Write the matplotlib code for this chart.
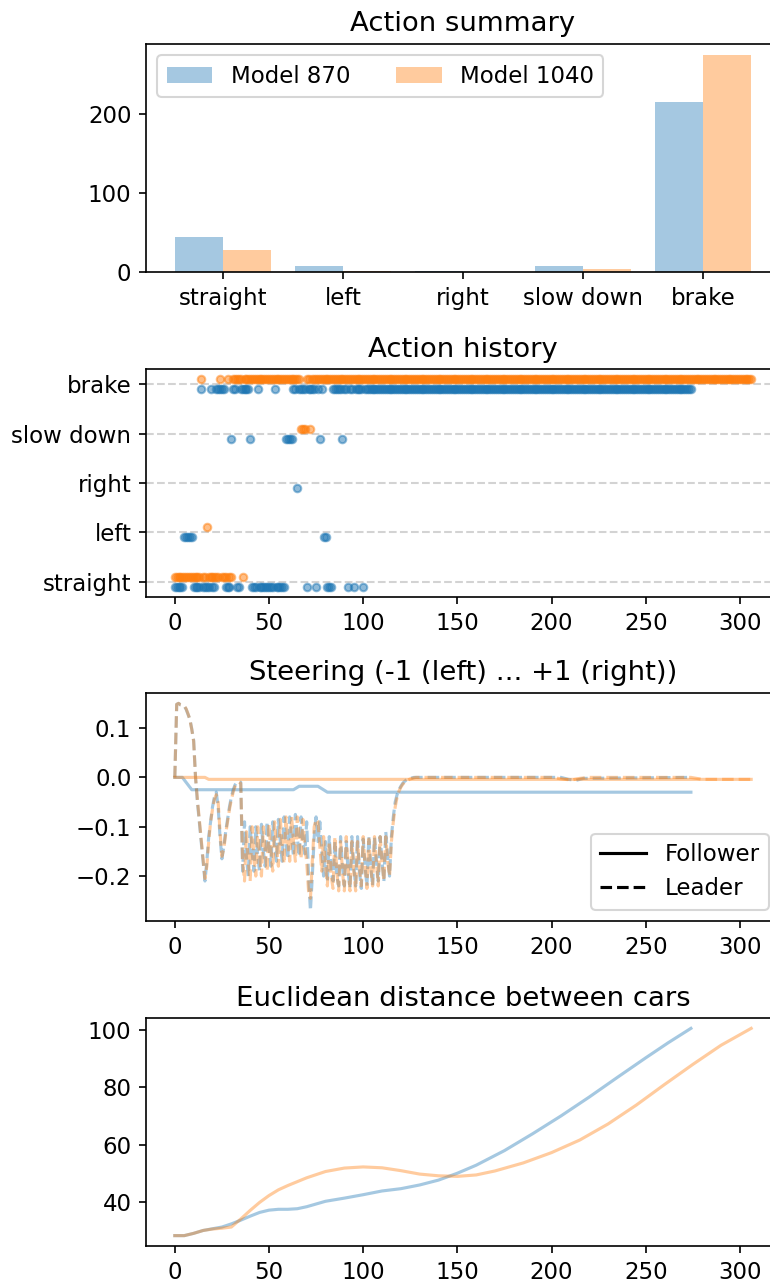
import numpy as np
import matplotlib
matplotlib.use("Agg")
import matplotlib.pyplot as plt
from matplotlib.lines import Line2D
from matplotlib.ticker import MultipleLocator

plt.rcParams["font.size"] = 11

# ---------------- data ----------------
actions = ["straight", "left", "right", "slow down", "brake"]
models = ["Model 870", "Model 1040"]
summary_870 = [44, 7, 1, 8, 215]
summary_1040 = [28, 1, 0, 4, 274]

# action history as runs of (action index, run length), starting at t = 0
history_870_runs = [(0, 5), (1, 5), (0, 4), (4, 1), (0, 4), (4, 1), (0, 2), (4, 5),
                    (0, 3), (3, 1), (4, 2), (0, 2), (4, 5), (3, 1), (0, 3), (4, 1),
                    (0, 8), (4, 1), (0, 5), (3, 4), (4, 2), (2, 1), (4, 4), (0, 1),
                    (4, 4), (0, 1), (4, 1), (3, 1), (4, 1), (1, 2), (0, 3), (4, 5),
                    (3, 1), (4, 2), (0, 1), (4, 2), (0, 1), (4, 4), (0, 1), (4, 174)]
history_1040_runs = [(0, 14), (4, 1), (0, 2), (1, 1), (0, 6), (4, 1), (0, 3), (4, 1),
                     (0, 2), (4, 5), (0, 1), (4, 30), (3, 3), (4, 2), (3, 1), (4, 234)]

# steering: follower (solid)
follower_870_t = [0, 4, 9, 63, 66, 76, 81, 274]
follower_870_v = [0.0, 0.0, -0.025, -0.025, -0.018, -0.018, -0.030, -0.030]
follower_1040_t = [0, 16, 18, 306]
follower_1040_v = [0.0, 0.0, -0.004, -0.004]

# steering: leader (dashed), one value per step from t = 0, then sparse tail
leader_870_head = [
    0.0, 0.148, 0.150, 0.147, 0.146, 0.145, 0.138, 0.128, 0.118, 0.098,
    0.075, 0.0, -0.05, -0.09, -0.13, -0.17, -0.21, -0.17, -0.12, -0.09,
    -0.06, -0.04, -0.03, -0.06, -0.12, -0.165, -0.14, -0.11, -0.085, -0.06,
    -0.04, -0.025, -0.015, -0.01, -0.008, -0.01, -0.19, -0.09, -0.16, -0.20,
    -0.10, -0.15, -0.19, -0.10, -0.16, -0.19, -0.095, -0.15, -0.18, -0.09,
    -0.14, -0.18, -0.09, -0.14, -0.17, -0.085, -0.13, -0.17, -0.08, -0.13,
    -0.165, -0.08, -0.12, -0.16, -0.075, -0.12, -0.16, -0.08, -0.13, -0.155,
    -0.09, -0.20, -0.27, -0.20, -0.12, -0.08, -0.13, -0.09, -0.15, -0.20,
    -0.13, -0.21, -0.12, -0.19, -0.21, -0.13, -0.20, -0.22, -0.12, -0.18,
    -0.22, -0.13, -0.19, -0.225, -0.12, -0.18, -0.22, -0.12, -0.19, -0.225,
    -0.125, -0.18, -0.22, -0.12, -0.18, -0.22, -0.12, -0.17, -0.21, -0.12,
    -0.17, -0.21, -0.11, -0.16, -0.20, -0.12, -0.08, -0.05, -0.035, -0.025,
    -0.018, -0.012, -0.008, -0.005, -0.003, -0.002, -0.001, 0.0]
leader_870_tail_t = [130, 205, 209, 213, 217, 274]
leader_870_tail_v = [0.0, 0.0, -0.004, -0.006, -0.002, 0.0]

leader_1040_head = [
    0.0, 0.148, 0.150, 0.147, 0.146, 0.145, 0.139, 0.129, 0.117, 0.097,
    0.073, 0.0, -0.045, -0.085, -0.125, -0.165, -0.205, -0.18, -0.13, -0.09,
    -0.065, -0.045, -0.035, -0.05, -0.11, -0.16, -0.145, -0.115, -0.09, -0.065,
    -0.045, -0.03, -0.018, -0.012, -0.01, -0.012, -0.17, -0.21, -0.11, -0.17,
    -0.21, -0.10, -0.16, -0.20, -0.10, -0.16, -0.20, -0.10, -0.15, -0.19,
    -0.095, -0.15, -0.19, -0.09, -0.14, -0.18, -0.085, -0.14, -0.175, -0.08,
    -0.13, -0.17, -0.08, -0.13, -0.17, -0.08, -0.12, -0.165, -0.085, -0.14,
    -0.17, -0.23, -0.245, -0.17, -0.10, -0.085, -0.09, -0.14, -0.19, -0.12,
    -0.18, -0.22, -0.13, -0.20, -0.225, -0.12, -0.19, -0.23, -0.13, -0.19,
    -0.23, -0.12, -0.18, -0.23, -0.13, -0.19, -0.23, -0.13, -0.18, -0.22,
    -0.12, -0.18, -0.225, -0.125, -0.18, -0.22, -0.12, -0.17, -0.22, -0.12,
    -0.17, -0.21, -0.12, -0.17, -0.20, -0.13, -0.09, -0.06, -0.04, -0.028,
    -0.02, -0.014, -0.01, -0.007, -0.005, -0.003, -0.002, -0.001, 0.0]
leader_1040_tail_t = [130, 200, 207, 211, 215, 220, 274, 280, 306]
leader_1040_tail_v = [0.0, 0.0, -0.004, -0.005, -0.002, 0.0, 0.0, -0.004, -0.004]

# euclidean distance between cars
dist_870_t = [0, 5, 10, 15, 20, 25, 30, 35, 40, 45, 50, 55, 60, 65, 70, 80, 90,
              100, 110, 120, 130, 140, 150, 160, 175, 190, 205, 220, 235, 250, 262, 274]
dist_870_v = [28.2, 28.2, 29.0, 30.0, 30.6, 31.2, 32.3, 33.6, 35.0, 36.3, 37.1, 37.4,
              37.4, 37.6, 38.3, 40.2, 41.3, 42.5, 43.8, 44.6, 45.9, 47.6, 50.0, 52.8,
              57.9, 63.8, 70.0, 76.6, 83.5, 90.3, 95.6, 100.6]
dist_1040_t = [0, 5, 10, 15, 20, 25, 30, 35, 40, 45, 50, 55, 60, 70, 80, 90, 100,
               110, 120, 130, 140, 150, 160, 170, 185, 200, 215, 230, 245, 260, 275,
               290, 306]
dist_1040_v = [28.2, 28.2, 29.0, 30.0, 30.5, 30.8, 31.2, 34.0, 37.0, 39.8, 42.2, 44.2,
               45.7, 48.4, 50.6, 51.8, 52.2, 51.9, 50.9, 49.7, 49.1, 48.9, 49.4, 50.8,
               53.6, 57.2, 61.6, 67.2, 73.8, 81.0, 88.0, 94.7, 100.6]

# ---------------- figure ----------------
W, H, DPI = 770, 1282, 150
fig = plt.figure(figsize=(W / DPI, H / DPI), dpi=DPI)


def add_ax(top_px, left_px=146, right_px=780, height_px=228):
    return fig.add_axes([left_px / W, 1 - (top_px + height_px) / H,
                         (right_px - left_px) / W, height_px / H])


c_blue, c_orange = "C0", "C1"

# Action summary
ax1 = add_ax(44)
x = np.arange(len(actions))
ax1.bar(x - 0.2, summary_870, 0.4, color=c_blue, alpha=0.4, label=models[0])
ax1.bar(x + 0.2, summary_1040, 0.4, color=c_orange, alpha=0.4, label=models[1])
ax1.set_xticks(x)
ax1.set_xticklabels(actions)
ax1.set_title("Action summary")
ax1.legend(loc="upper left", ncol=2)


def expand(runs):
    out = []
    for a, n in runs:
        out.extend([a] * n)
    return np.array(out)


# Action history
ax2 = add_ax(369)
h870 = expand(history_870_runs)
h1040 = expand(history_1040_runs)
for i in range(len(actions)):
    ax2.axhline(i, color="lightgray", linestyle="--", linewidth=1.0, zorder=0)
ax2.scatter(np.arange(len(h870)), h870 - 0.1, s=13, color=c_blue, alpha=0.5)
ax2.scatter(np.arange(len(h1040)), h1040 + 0.1, s=13, color=c_orange, alpha=0.5)
ax2.set_yticks(range(len(actions)))
ax2.set_yticklabels(actions)
ax2.set_title("Action history")

# Steering
ax3 = add_ax(693)
l870_t = list(range(len(leader_870_head))) + leader_870_tail_t
l870_v = leader_870_head + leader_870_tail_v
l1040_t = list(range(len(leader_1040_head))) + leader_1040_tail_t
l1040_v = leader_1040_head + leader_1040_tail_v
ax3.plot(follower_870_t, follower_870_v, color=c_blue, alpha=0.4, lw=1.5)
ax3.plot(l870_t, l870_v, color=c_blue, alpha=0.4, lw=1.5, ls="--")
ax3.plot(follower_1040_t, follower_1040_v, color=c_orange, alpha=0.4, lw=1.5)
ax3.plot(l1040_t, l1040_v, color=c_orange, alpha=0.4, lw=1.5, ls="--")
ax3.yaxis.set_major_locator(MultipleLocator(0.1))
ax3.set_title("Steering (-1 (left) ... +1 (right))")
handles = [Line2D([], [], color="black", lw=1.5, ls="-"),
           Line2D([], [], color="black", lw=1.5, ls="--")]
ax3.legend(handles, ["Follower", "Leader"], loc="lower right")

# Distance
ax4 = add_ax(1018)
ax4.plot(dist_870_t, dist_870_v, color=c_blue, alpha=0.4, lw=1.5)
ax4.plot(dist_1040_t, dist_1040_v, color=c_orange, alpha=0.4, lw=1.5)
ax4.set_title("Euclidean distance between cars")

fig.savefig("out.png", dpi=DPI)
